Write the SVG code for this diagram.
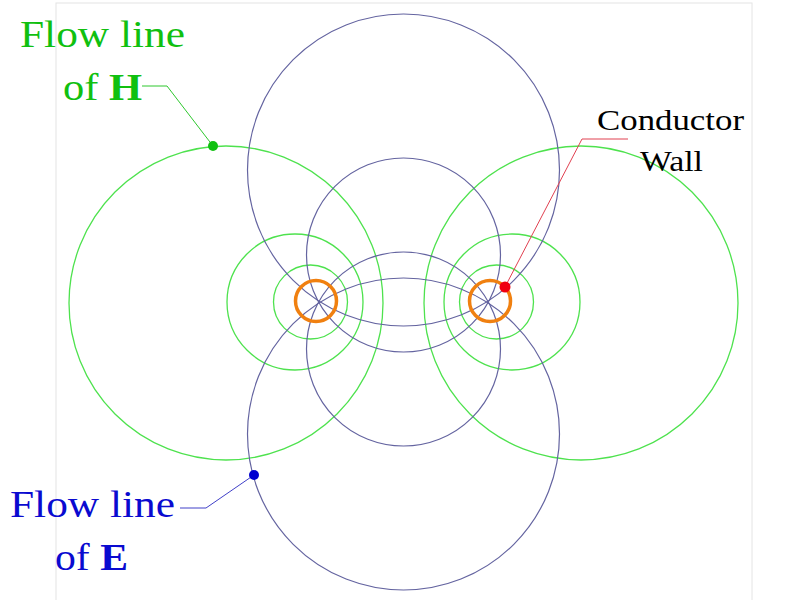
<svg xmlns="http://www.w3.org/2000/svg" width="800" height="600" viewBox="0 0 800 600">
<style>
.h{fill:none;stroke:#4ee24e;stroke-width:1.3}
.e{fill:none;stroke:#6464a0;stroke-width:1.2}
.c{fill:none;stroke:#f08010;stroke-width:3.5}
.t{font-family:'Liberation Serif','Times New Roman','DejaVu Serif',serif}
</style>
<rect x="56" y="3" width="696" height="600" fill="#fff" stroke="#e4e4e4"/>
<g id="h-lines">
<circle class="h" cx="226" cy="303" r="157"/>
<circle class="h" cx="295" cy="302" r="68"/>
<circle class="h" cx="310.5" cy="302" r="37"/>
<circle class="h" cx="581" cy="303" r="157"/>
<circle class="h" cx="512" cy="302" r="68"/>
<circle class="h" cx="496.5" cy="302" r="37"/>
</g>
<g id="e-lines">
<circle class="e" cx="403.5" cy="170" r="156"/>
<circle class="e" cx="403.5" cy="434" r="156"/>
<circle class="e" cx="403.5" cy="255" r="97"/>
<circle class="e" cx="403.5" cy="349" r="97"/>
</g>
<g id="conductor-left"><circle class="c" cx="316" cy="301" r="20.5"/></g>
<g id="conductor-right"><circle class="c" cx="490" cy="301" r="20.5"/></g>
<g id="connectors">
<polyline points="142,86 167,86 213,146" fill="none" stroke="#2ec82e" stroke-width="1"/>
<circle cx="213" cy="146" r="5" fill="#10c010"/>
<polyline points="628,139 582,139 505,287" fill="none" stroke="#e04050" stroke-width="1"/>
<circle cx="505" cy="287" r="5.5" fill="#f00010"/>
<polyline points="180,508 206,508 254,475" fill="none" stroke="#4040c8" stroke-width="1"/>
<circle cx="254" cy="475" r="5" fill="#0000d0"/>
</g>
<g id="label-h" class="t" fill="#10c010" font-size="37">
<text x="20" y="47" textLength="165" lengthAdjust="spacingAndGlyphs">Flow line</text>
<text x="63" y="100" textLength="79" lengthAdjust="spacingAndGlyphs">of <tspan font-weight="bold">H</tspan></text>
</g>
<g id="label-e" class="t" fill="#0a0ad0" font-size="37">
<text x="10" y="517" textLength="165" lengthAdjust="spacingAndGlyphs">Flow line</text>
<text x="55" y="570" textLength="73" lengthAdjust="spacingAndGlyphs">of <tspan font-weight="bold">E</tspan></text>
</g>
<g id="label-wall" class="t" fill="#000" font-size="30">
<text x="597" y="130" textLength="147" lengthAdjust="spacingAndGlyphs">Conductor</text>
<text x="640" y="171" textLength="63" lengthAdjust="spacingAndGlyphs">Wall</text>
</g>
</svg>
